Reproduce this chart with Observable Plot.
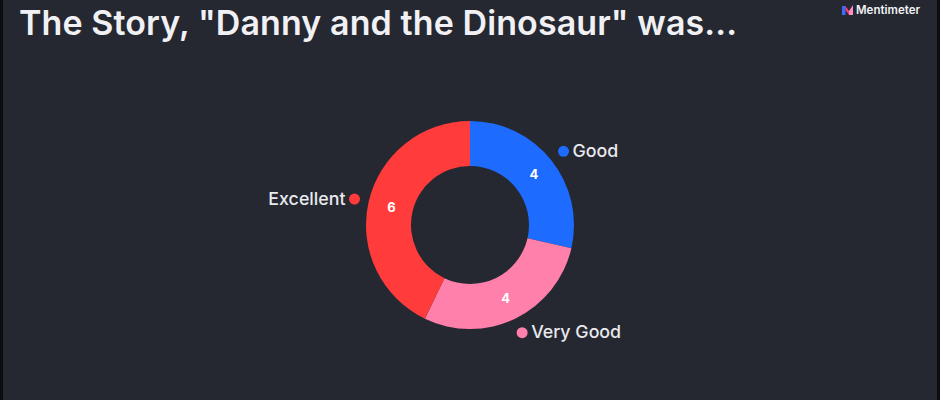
<!DOCTYPE html>
<html>
<head>
<meta charset="utf-8">
<script src="https://cdn.jsdelivr.net/npm/d3@7"></script>
<script src="https://cdn.jsdelivr.net/npm/@observablehq/plot@0.6"></script>
<style>
  html, body { margin: 0; padding: 0; }
  body {
    width: 940px; height: 400px; overflow: hidden;
    background: #252830;
    font-family: Inter, "Noto Sans", sans-serif;
    position: relative;
  }
  .frame-l, .frame-r { position: absolute; top: 0; bottom: 0; width: 3px; background: #0c0d10; }
  .frame-l { left: 0; } .frame-r { right: 0; }
  #title {
    height: 60px; position: relative;
  }
  #title h1 {
    position: absolute; left: 19px; top: 1px; margin: 0;
    font-size: 34px; font-weight: 600; letter-spacing: 0.1px;
    color: #f1f1f5; line-height: 44px; white-space: nowrap;
  }
  #brand {
    position: absolute; right: 20px; top: 3px;
    display: flex; align-items: center; gap: 3px;
    font-size: 11.5px; font-weight: 600; color: #f1f1f5;
  }
  #chart svg { display: block; }
</style>
</head>
<body>
<div class="frame-l"></div><div class="frame-r"></div>
<div id="title">
  <h1>The Story, "Danny and the Dinosaur" was...</h1>
  <div id="brand">
    <svg width="11" height="10" viewBox="0 0 11 10">
      <polygon points="0,10 0,1 3.5,1 3.5,10" fill="#3d6bff"/>
      <polygon points="3.5,1 7,6 7,10 3.5,5" fill="#ff3c6e"/>
      <polygon points="7,6 11,0 11,10 7,10" fill="#ff8fc0"/>
    </svg>
    <span>Mentimeter</span>
  </div>
</div>
<div id="chart"></div>
<script>
// Responses per answer
const categories = ["Good", "Very Good", "Excellent"];
const counts = [4, 4, 6];
const colors = ["#1e6bff", "#ff80ab", "#ff3b3b"];

// Ring geometry (in data units, 1 unit = 1 px)
const innerR = 59, outerR = 104, valueR = 81, labelR = 119;

const data = categories.map((name, i) => ({name, count: counts[i], color: colors[i]}));
const arcs = d3.pie().sort(null).value(d => d.count)(data);
const slices = arcs.map(a => {
  const mid = (a.startAngle + a.endAngle) / 2;
  return {...a.data, arc: a, sin: Math.sin(mid), cos: Math.cos(mid)};
});

// Donut slices drawn through the plot's x/y scales
function ring(index, {x, y}) {
  const k = x(1) - x(0);
  const arc = d3.arc().innerRadius(innerR * k).outerRadius(outerR * k);
  const g = d3.create("svg:g").attr("transform", `translate(${x(0)},${y(0)})`);
  g.selectAll("path")
    .data(slices)
    .join("path")
    .attr("d", d => arc(d.arc))
    .attr("fill", d => d.color);
  return g.node();
}

const px = r => d => r * d.sin;
const py = r => d => -r * d.cos;
const rightSide = slices.filter(d => d.sin >= 0);
const leftSide = slices.filter(d => d.sin < 0);

const chart = Plot.plot({
  width: 940,
  height: 340,
  margin: 0,
  x: {domain: [-470, 470], range: [0, 940], axis: null},
  y: {domain: [-165, 175], range: [0, 340], axis: null},
  style: {background: "transparent", fontFamily: "Inter, 'Noto Sans', sans-serif"},
  marks: [
    ring,
    Plot.text(slices, {
      x: px(valueR), y: py(valueR), text: d => String(d.count),
      fill: "#ffffff", fontSize: 13, fontWeight: 700
    }),
    Plot.dot(slices, {x: px(labelR), y: py(labelR), r: 5.5, fill: d => d.color, stroke: null}),
    Plot.text(rightSide, {
      x: px(labelR), y: py(labelR), text: "name", textAnchor: "start", dx: 9,
      fill: "#e9e9ef", fontSize: 17.8, fontWeight: 500
    }),
    Plot.text(leftSide, {
      x: px(labelR), y: py(labelR), text: "name", textAnchor: "end", dx: -9,
      fill: "#e9e9ef", fontSize: 17.8, fontWeight: 500
    })
  ]
});
document.getElementById("chart").append(chart);
</script>
</body>
</html>
